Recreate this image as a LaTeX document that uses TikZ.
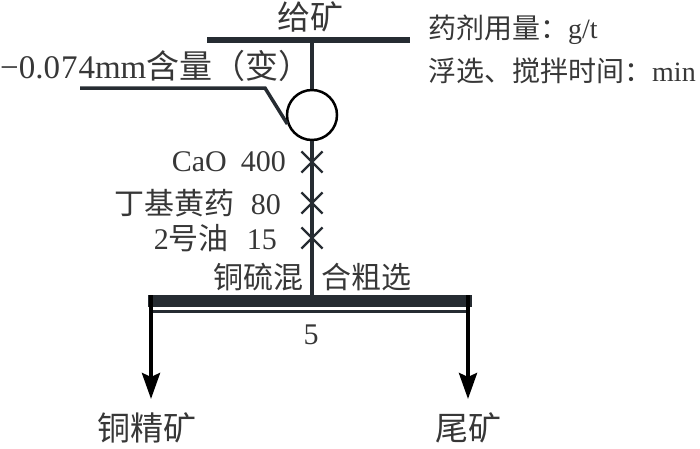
\documentclass[tikz,border=0pt]{standalone}
\usepackage{fontspec}
\setmainfont{Liberation Serif}
\newfontfamily\cjk{Noto Sans CJK SC}
\usetikzlibrary{arrows.meta,shapes.misc}
\definecolor{linecol}{RGB}{38,44,50}
\definecolor{txtcol}{RGB}{55,55,55}
\tikzset{
  flow/.style={draw=linecol,line width=3.5pt},
  lbl/.style={text=txtcol,inner sep=0pt,font=\fontsize{33pt}{33pt}\selectfont},
  rlbl/.style={text=txtcol,inner sep=0pt,font=\fontsize{30pt}{30pt}\selectfont},
  slbl/.style={text=txtcol,inner sep=0pt,font=\fontsize{28pt}{28pt}\selectfont},
  addpt/.style={cross out,draw=linecol,line width=2.2pt,minimum size=19pt,inner sep=0pt},
  outarrow/.style={draw=black,line width=4pt,-{Stealth[length=26pt,width=18pt,inset=4pt]}}
}
\begin{document}
\begin{tikzpicture}[x=1pt,y=-1pt]
\useasboundingbox (0,0) rectangle (700,448);
% feed bar
\coordinate (feedL) at (207,40);
\coordinate (feedR) at (410,40);
\coordinate (feedM) at (312,43);
\draw[draw=linecol,line width=6pt] (feedL) -- (feedR);
\node[lbl] (feed) at (310,17) {\cjk 给矿};
% conditioning tank
\node[circle,draw=black,fill=white,line width=2.5pt,minimum size=50pt,inner sep=0pt] (cond) at (312,115) {};
\draw[flow] (feedM) -- (cond.north);
% side feed
\coordinate (sideA) at (80,88);
\coordinate (sideB) at (265,88);
\draw[flow] (sideA) -- (sideB) -- (cond.200);
\node[lbl,anchor=west] (grind) at (0,66) {−0.0\hspace{1pt}7\hspace{1pt}4mm{\cjk 含量（变）}};
% main bar
\coordinate (barL) at (148,301);
\coordinate (barR) at (472,301);
\coordinate (barM) at (312,295);
\draw[draw=linecol,line width=12pt] (barL) -- (barR);
\coordinate (thinL) at (150,311);
\coordinate (thinR) at (470,311);
\draw[draw=linecol,line width=3pt] (thinL) -- (thinR);
\draw[flow] (cond.south) -- (barM);
% reagent addition points
\node[addpt] (x1) at (312,162) {};
\node[addpt] (x2) at (312,203) {};
\node[addpt] (x3) at (312,238) {};
\node[rlbl,anchor=east] (r1) at (286,162) {CaO\hspace{14pt}400};
\node[rlbl,anchor=east] (r2) at (281,203) {{\cjk 丁基黄药}\hspace{16pt}80};
\node[rlbl,anchor=east] (r3) at (277,238) {2{\cjk 号油}\hspace{18pt}15};
\node[rlbl,anchor=east] (op1) at (304,277) {\cjk 铜硫混};
\node[rlbl,anchor=west] (op2) at (321,277) {\cjk 合粗选};
\node[rlbl] (time) at (311,335) {5};
% outputs
\coordinate (cL) at (151,295);
\coordinate (tL) at (468,295);
\node[lbl] (conc) at (147,428) {\cjk 铜精矿};
\node[lbl] (tail) at (468,428) {\cjk 尾矿};
\coordinate (cEnd) at (151,399);
\coordinate (tEnd) at (468,399);
\draw[outarrow] (cL) -- (cEnd);
\draw[outarrow] (tL) -- (tEnd);
% legend
\node[slbl,anchor=west] (leg1) at (428,30) {{\cjk 药剂用量：}g/t};
\node[slbl,anchor=west] (leg2) at (428,71) {{\cjk 浮选、搅拌时间：}min};
\end{tikzpicture}
\end{document}
